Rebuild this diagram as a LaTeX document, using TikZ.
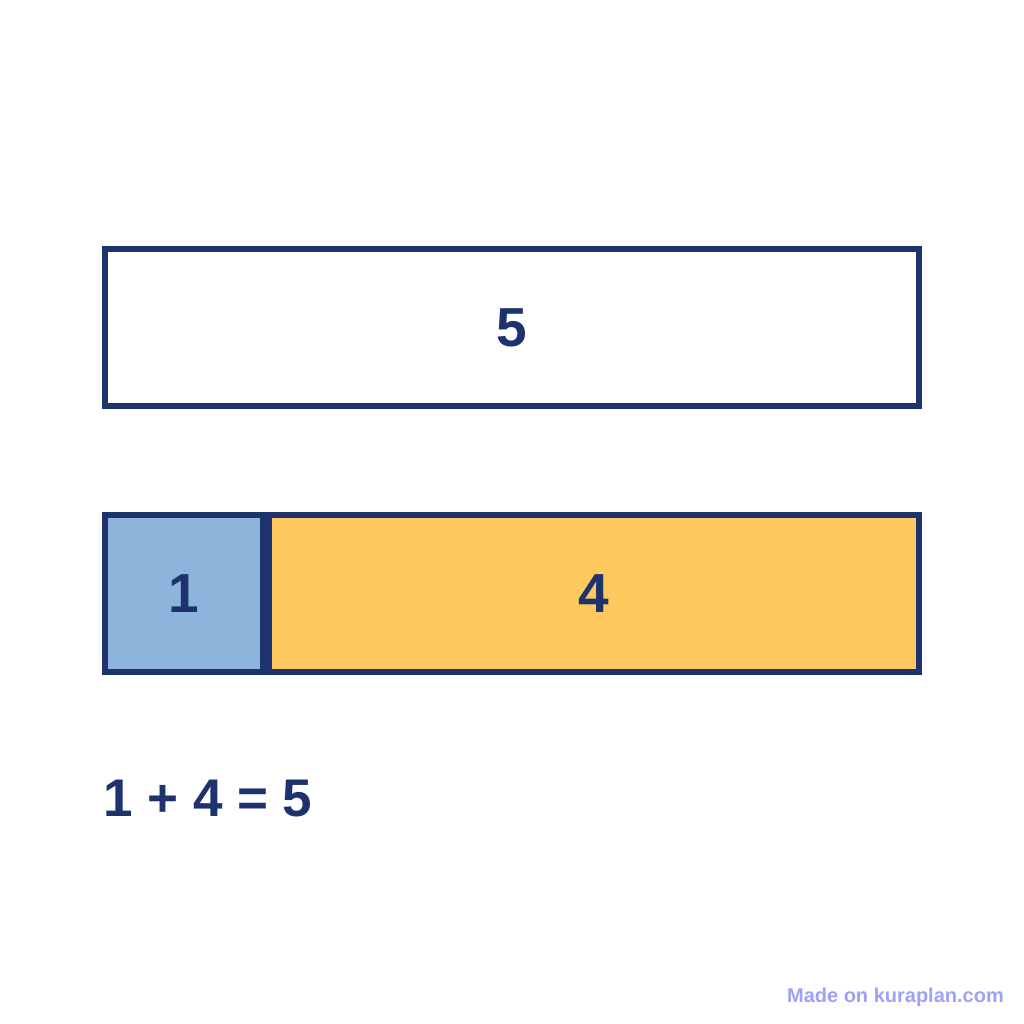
\documentclass[tikz,border=0pt]{standalone}
\usepackage{fontspec}
\setmainfont{Liberation Sans}
\usepackage{xcolor}
\usetikzlibrary{positioning}
\definecolor{navy}{RGB}{30,50,110}
\definecolor{partblue}{RGB}{141,180,219}
\definecolor{partorange}{RGB}{253,201,92}
\definecolor{markcol}{RGB}{160,160,250}

\begin{document}
\begin{tikzpicture}[x=1pt,y=1pt,
                    bar node/.style={rectangle,draw=navy,line width=5.5pt,inner sep=0pt,outer sep=0pt,
                                     minimum height=157pt,text=navy,font=\fontsize{55}{60}\selectfont\bfseries}]

 \useasboundingbox (0,0) rectangle (1024,1024);

 \node[bar node,fill=white,minimum width=814pt] (whole) at (512,696.5) {5};
 \node[bar node,fill=partblue,minimum width=158pt] (one) [below=109pt of whole.south west,anchor=north west] {1};
 \node[bar node,fill=partorange,minimum width=650pt] (four) [right=6pt of one.north east,anchor=north west] {4};

 \node[inner sep=0pt,text=navy,font=\fontsize{53}{58}\selectfont\bfseries] (sum)
   [below=145pt of one.south west,anchor=base west,xshift=-2pt] {1 + 4 = 5};

 \node[inner sep=0pt,text=markcol,font=\fontsize{20}{24}\selectfont\bfseries,anchor=base east] (mark)
   at (1004,21) {Made on kuraplan.com};

\end{tikzpicture}
\end{document}
